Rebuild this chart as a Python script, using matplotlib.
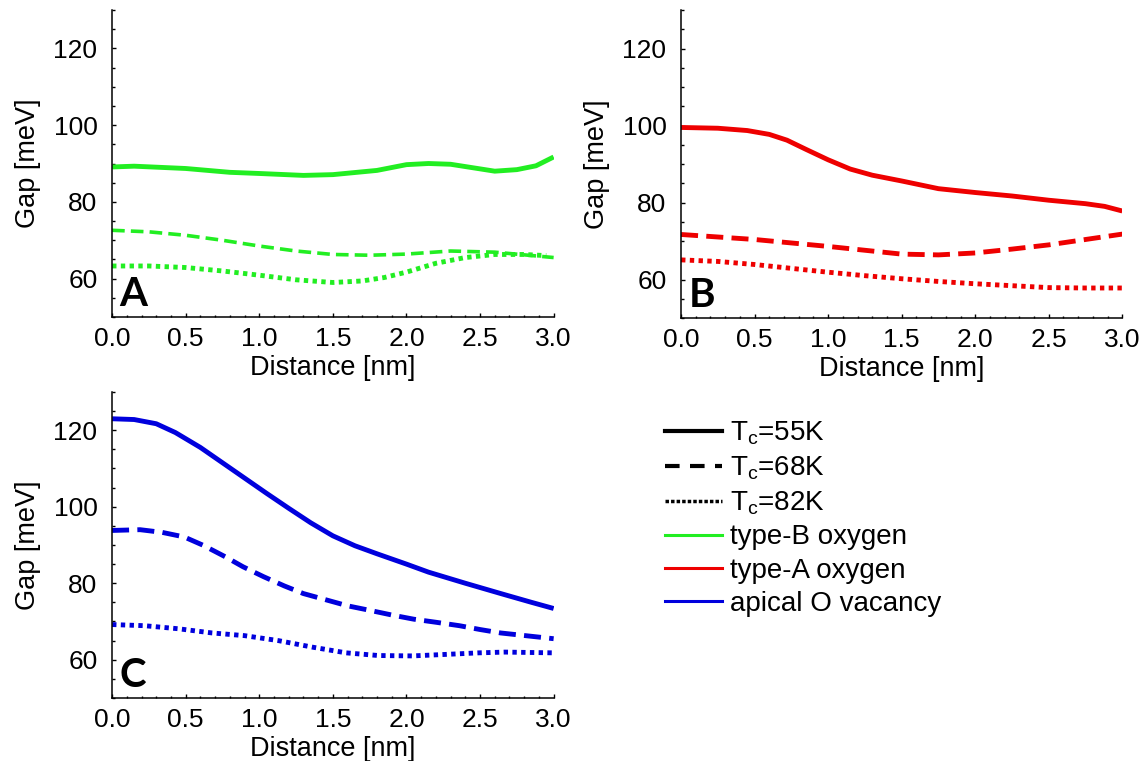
import matplotlib
import matplotlib.pyplot as plt
from matplotlib.lines import Line2D
from matplotlib.ticker import MultipleLocator

matplotlib.use("Agg", force=True)

plt.rcParams["font.family"] = ["Liberation Sans", "DejaVu Sans"]

GREEN = "#22ee22"
RED = "#ee0000"
BLUE = "#0000dd"

# panel A: type-B oxygen
a_solid_x = [0.0, 0.15, 0.5, 0.8, 1.0, 1.3, 1.5, 1.8, 2.0, 2.15, 2.3, 2.6, 2.75, 2.88, 3.0]
a_solid_y = [89.1, 89.3, 88.7, 87.7, 87.4, 86.9, 87.1, 88.2, 89.7, 90.0, 89.8, 88.0, 88.4, 89.4, 91.7]
a_dash_x = [0.0, 0.25, 0.5, 0.75, 1.0, 1.25, 1.5, 1.75, 2.0, 2.3, 2.6, 2.8, 3.0]
a_dash_y = [72.6, 72.2, 71.3, 70.0, 68.5, 67.2, 66.3, 66.1, 66.4, 67.2, 66.9, 66.2, 65.5]
a_dot_x = [0.0, 0.25, 0.5, 0.75, 1.0, 1.25, 1.5, 1.7, 1.85, 2.0, 2.2, 2.4, 2.6, 2.8, 2.95]
a_dot_y = [63.3, 63.3, 62.9, 62.0, 60.9, 59.7, 59.0, 59.4, 60.3, 61.7, 64.0, 65.5, 66.3, 66.3, 66.0]

# panel B: type-A oxygen
b_solid_x = [0.0, 0.25, 0.45, 0.6, 0.72, 0.85, 1.0, 1.15, 1.3, 1.5, 1.75, 2.0, 2.25, 2.5, 2.75, 2.88, 3.0]
b_solid_y = [99.5, 99.3, 98.7, 97.7, 96.2, 93.8, 91.1, 88.7, 87.1, 85.6, 83.6, 82.6, 81.7, 80.6, 79.7, 79.0, 77.8]
b_dash_x = [0.0, 0.5, 1.0, 1.25, 1.5, 1.75, 2.0, 2.25, 2.5, 2.75, 3.0]
b_dash_y = [71.7, 70.4, 68.6, 67.6, 66.6, 66.4, 66.9, 67.9, 69.0, 70.4, 71.8]
b_dot_x = [0.0, 0.25, 0.5, 0.75, 1.0, 1.25, 1.5, 1.75, 2.0, 2.25, 2.5, 2.75, 3.0]
b_dot_y = [65.1, 64.7, 63.9, 62.9, 61.9, 61.0, 60.2, 59.5, 58.9, 58.4, 57.9, 57.8, 57.8]

# panel C: apical O vacancy
c_solid_x = [0.0, 0.15, 0.3, 0.43, 0.6, 0.75, 0.9, 1.05, 1.2, 1.35, 1.5, 1.65, 1.8, 2.0, 2.15, 2.4, 2.65, 2.85, 3.0]
c_solid_y = [123.0, 122.8, 121.7, 119.4, 115.5, 111.5, 107.5, 103.5, 99.6, 95.8, 92.4, 89.8, 87.7, 85.0, 82.9, 80.0, 77.2, 75.0, 73.4]
c_dash_x = [0.0, 0.19, 0.34, 0.49, 0.62, 0.77, 0.89, 1.03, 1.17, 1.3, 1.45, 1.6, 1.74, 1.9, 2.05, 2.2, 2.36, 2.5, 2.64, 3.0]
c_dash_y = [93.8, 94.0, 93.3, 92.1, 89.9, 86.9, 84.3, 81.7, 79.3, 77.3, 75.7, 74.1, 73.0, 71.7, 70.6, 69.8, 68.9, 67.9, 67.0, 65.5]
c_dot_x = [0.0, 0.22, 0.45, 0.68, 0.9, 1.13, 1.36, 1.59, 1.81, 2.04, 2.27, 2.49, 2.67, 3.0]
c_dot_y = [69.2, 68.9, 68.1, 67.0, 66.3, 65.0, 63.3, 61.8, 61.1, 61.0, 61.4, 61.8, 62.0, 61.8]

x_ticks = [0.0, 0.5, 1.0, 1.5, 2.0, 2.5, 3.0]
y_ticks = [60, 80, 100, 120]

legend_labels = [
    "T$_\\mathregular{c}$=55K",
    "T$_\\mathregular{c}$=68K",
    "T$_\\mathregular{c}$=82K",
    "type-B oxygen",
    "type-A oxygen",
    "apical O vacancy",
]

LW = 3.5
DASH = (0, (3.5, 1.7))
DOT = (0, (0.9, 0.9))
TICK_FS = 19
LABEL_FS = 19.5
LEGEND_FS = 20


def _style_axes(ax, letter):
    ax.set_xlim(0, 3)
    ax.set_ylim(50, 130)
    ax.set_xticks(x_ticks)
    ax.set_xticklabels([f"{t:.1f}" for t in x_ticks])
    ax.set_yticks(y_ticks)
    ax.xaxis.set_minor_locator(MultipleLocator(0.1))
    ax.yaxis.set_minor_locator(MultipleLocator(5))
    ax.tick_params(which="both", direction="in", width=1.0, labelsize=TICK_FS)
    ax.tick_params(which="major", length=3)
    ax.tick_params(which="minor", length=1.8)
    ax.tick_params(axis="y", pad=10.5)
    ax.tick_params(axis="x", pad=7)
    for side in ("top", "right"):
        ax.spines[side].set_visible(False)
    for side in ("left", "bottom"):
        ax.spines[side].set_linewidth(1.1)
    ax.set_xlabel("Distance [nm]", fontsize=LABEL_FS, labelpad=3)
    ax.set_ylabel("Gap [meV]", fontsize=LABEL_FS, labelpad=9)
    ax.text(0.017, 0.036, letter, transform=ax.transAxes, fontsize=29,
            fontweight="bold", family=["Lato", "DejaVu Sans"], va="baseline", ha="left")


def _draw(ax, color, solid, dash, dot, dash_lw=LW):
    ax.plot(*solid, color=color, lw=LW, solid_capstyle="butt")
    ax.plot(*dash, color=color, lw=dash_lw, linestyle=DASH, dash_capstyle="butt")
    ax.plot(*dot, color=color, lw=LW, linestyle=DOT, dash_capstyle="butt")


fig = plt.figure(figsize=(11.46, 7.61), dpi=100)
ax_a = fig.add_axes([0.0978, 0.5834, 0.3853, 0.4035])
ax_b = fig.add_axes([0.5943, 0.5821, 0.3850, 0.4047])
ax_c = fig.add_axes([0.0978, 0.0828, 0.3853, 0.4021])

_draw(ax_a, GREEN, (a_solid_x, a_solid_y), (a_dash_x, a_dash_y), (a_dot_x, a_dot_y), dash_lw=2.6)
_draw(ax_b, RED, (b_solid_x, b_solid_y), (b_dash_x, b_dash_y), (b_dot_x, b_dot_y))
_draw(ax_c, BLUE, (c_solid_x, c_solid_y), (c_dash_x, c_dash_y), (c_dot_x, c_dot_y))

_style_axes(ax_a, "A")
_style_axes(ax_b, "B")
_style_axes(ax_c, "C")

handles = [
    Line2D([], [], color="black", lw=3.0),
    Line2D([], [], color="black", lw=3.0, linestyle=(0, (3.5, 2.5))),
    Line2D([], [], color="black", lw=2.5, linestyle=(0, (1, 0.6))),
    Line2D([], [], color=GREEN, lw=2.2),
    Line2D([], [], color=RED, lw=2.2),
    Line2D([], [], color=BLUE, lw=2.2),
]
fig.legend(handles, legend_labels, loc="upper left", bbox_to_anchor=(0.580, 0.449),
           frameon=False, fontsize=LEGEND_FS, handlelength=2.05, handletextpad=0.3,
           labelspacing=0.26, borderpad=0, borderaxespad=0)

fig.savefig("out.png", dpi=100)
plt.close(fig)
